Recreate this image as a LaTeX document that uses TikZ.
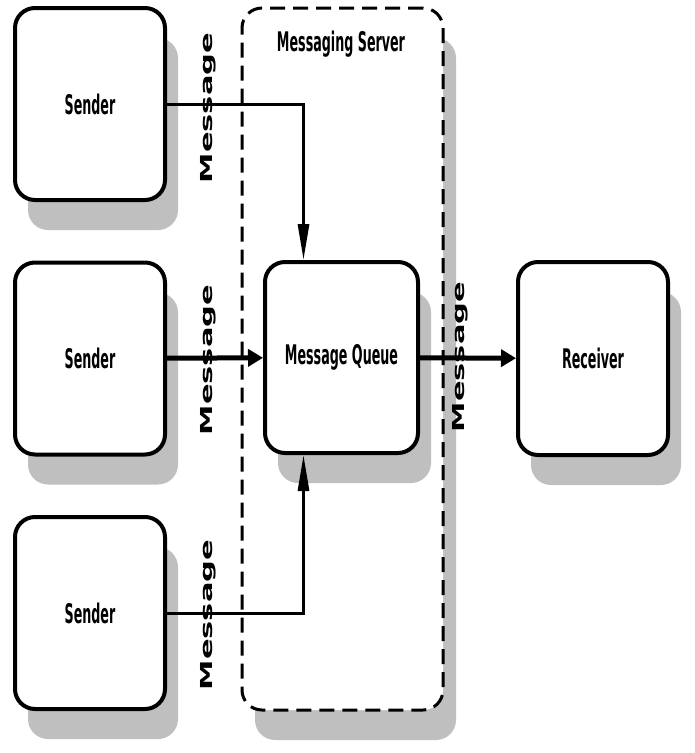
\documentclass[tikz,border=0pt]{standalone}
\usepackage{fontspec}
\setsansfont{DejaVu Sans}
\usepackage{tikz}
\usetikzlibrary{arrows.meta,shadows}

\newcommand{\squeezetext}[1]{\scalebox{0.47}[1]{#1}}
\newcommand{\longtext}[1]{\scalebox{1.85}[1]{#1}}

\begin{document}
\begin{tikzpicture}[x = 1pt, y = -1pt,
                    box/.style = {rectangle, draw, fill = white, line width = 4pt, rounded corners = 20pt,
                                  drop shadow = {shadow xshift = 13pt, shadow yshift = -30pt, fill = black!25, opacity = 1},
                                  font = \sffamily\bfseries\fontsize{27}{30}\selectfont},
                    server/.style = {rectangle, draw, fill = white, line width = 3pt, rounded corners = 20pt,
                                     dash pattern = on 15pt off 8pt,
                                     drop shadow = {shadow xshift = 13pt, shadow yshift = -30pt, fill = black!25, opacity = 1}},
                    msg/.style = {rotate = 90, font = \sffamily\bfseries\fontsize{16.5}{18}\selectfont},
                    flow/.style = {line width = 5pt, -{Triangle[length = 15pt, width = 17pt]}},
                    downflow/.style = {line width = 3pt, -{Triangle[length = 36pt, width = 11pt]}}]
  \useasboundingbox (0,0) rectangle (695,753);

  \node [server, minimum width = 201pt, minimum height = 702pt] (srv) at (342.5,359) {};
  \node [font = \sffamily\bfseries\fontsize{27}{30}\selectfont] (title) at (341,44) {\squeezetext{Messaging Server}};

  \node [box, minimum width = 150pt, minimum height = 192pt] (S1) at (90,104) {\squeezetext{Sender}};
  \node [box, minimum width = 150pt, minimum height = 192pt] (S2) at (90,358.5) {\squeezetext{Sender}};
  \node [box, minimum width = 150pt, minimum height = 192pt] (S3) at (90,613) {\squeezetext{Sender}};
  \node [box, minimum width = 153pt, minimum height = 191pt] (Q) at (341.5,357.5) {\squeezetext{Message Queue}};
  \node [box, minimum width = 150pt, minimum height = 193pt] (R) at (593,358.5) {\squeezetext{Receiver}};

  \draw [downflow] (S1) -| ([xshift = -38pt]Q.north);
  \draw [flow] (S2) -- (Q);
  \draw [downflow] (S3) -| ([xshift = -38pt]Q.south);
  \draw [flow] (Q) -- (R);

  \node [msg] (M1) at (208,108) {\longtext{Message}};
  \node [msg] (M2) at (208,360) {\longtext{Message}};
  \node [msg] (M3) at (208,615) {\longtext{Message}};
  \node [msg] (M4) at (460,357) {\longtext{Message}};
\end{tikzpicture}
\end{document}
